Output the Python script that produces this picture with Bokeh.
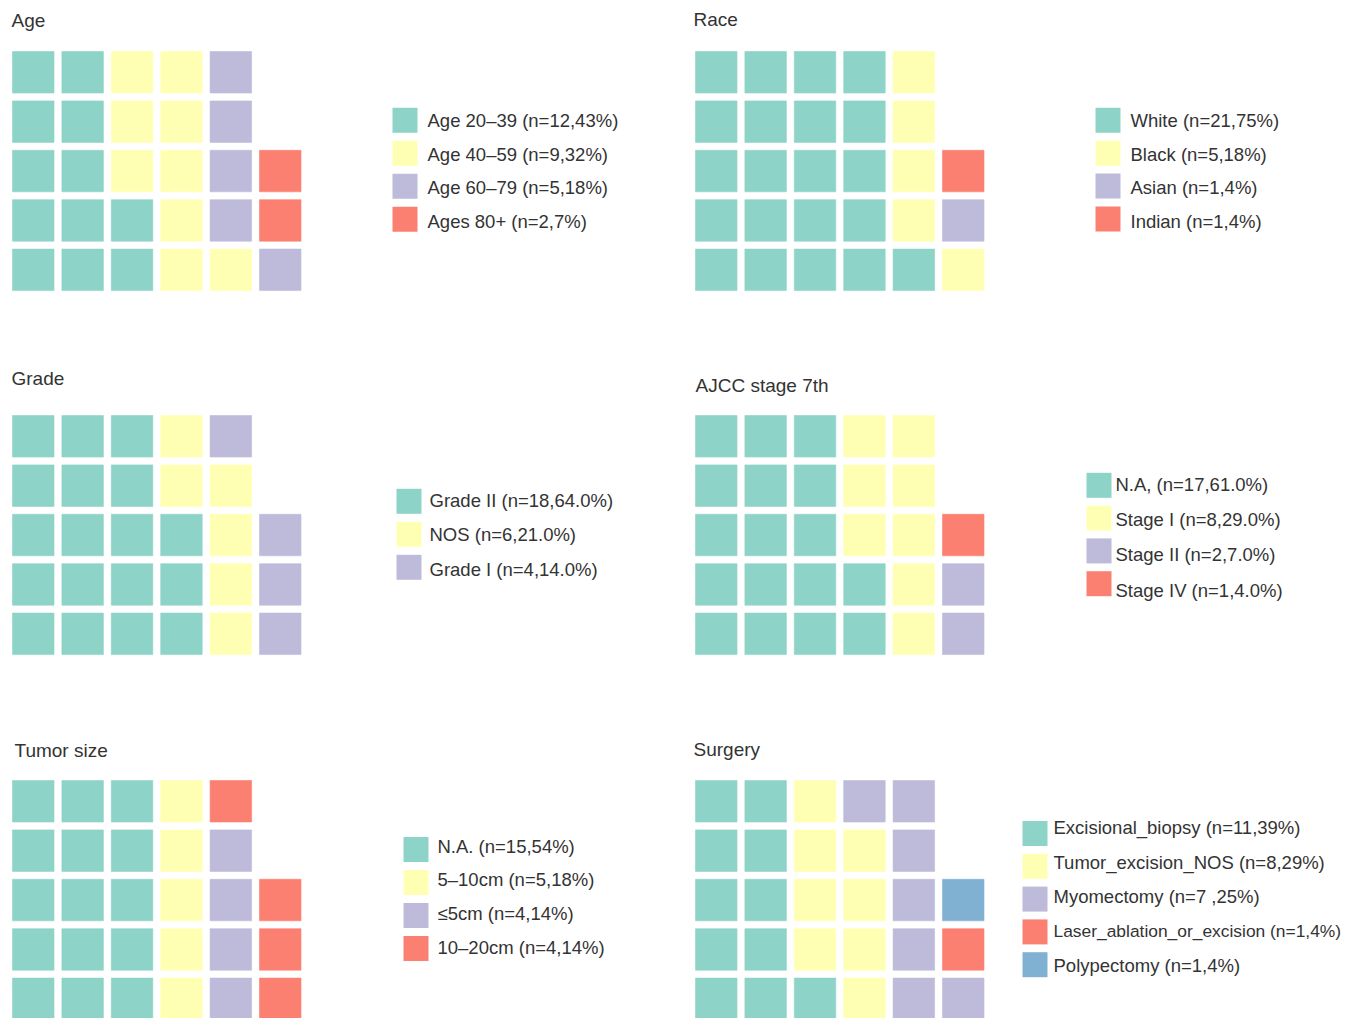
from bokeh.plotting import figure
from bokeh.models import Range1d, ColumnDataSource
from bokeh.core.properties import value
from bokeh.embed import file_html
from bokeh.resources import INLINE

# ---------------- data ----------------
age_title = "Age"
age_labels = ["Age 20\u201339 (n=12,43%)", "Age 40\u201359 (n=9,32%)",
              "Age 60\u201379 (n=5,18%)", "Ages 80+ (n=2,7%)"]
age_counts = [12, 9, 5, 2]

race_title = "Race"
race_labels = ["White (n=21,75%)", "Black (n=5,18%)", "Asian (n=1,4%)", "Indian (n=1,4%)"]
race_counts = [21, 5, 1, 1]

grade_title = "Grade"
grade_labels = ["Grade II (n=18,64.0%)", "NOS (n=6,21.0%)", "Grade I (n=4,14.0%)"]
grade_counts = [18, 6, 4]

ajcc_title = "AJCC stage 7th"
ajcc_labels = ["N.A, (n=17,61.0%)", "Stage I (n=8,29.0%)",
               "Stage II (n=2,7.0%)", "Stage IV (n=1,4.0%)"]
ajcc_counts = [17, 8, 2, 1]

tumor_title = "Tumor size"
tumor_labels = ["N.A. (n=15,54%)", "5\u201310cm (n=5,18%)",
                "\u22645cm (n=4,14%)", "10\u201320cm (n=4,14%)"]
tumor_counts = [15, 5, 4, 4]

surgery_title = "Surgery"
surgery_labels = ["Excisional_biopsy (n=11,39%)", "Tumor_excision_NOS (n=8,29%)",
                  "Myomectomy (n=7 ,25%)", "Laser_ablation_or_excision (n=1,4%)",
                  "Polypectomy (n=1,4%)"]
surgery_counts = [11, 8, 7, 1, 1]

# ---------------- style / layout ----------------
COLORS = ["#8DD3C7", "#FFFFB3", "#BEBADA", "#FB8072", "#80B1D3"]
TEXT_COLOR = "#333333"
FONT = "Liberation Sans"
ROWS = 5
CELL = 41.5
PITCH = 49.4
LEG_SQ = 25
LEG_FS = 18.5
RIGHT_LIMIT = 1341  # keep legend text inside the page
AVG_CHAR_EM = 0.474  # rough width estimate used only for fitting long labels

panels = [
    dict(title=age_title, labels=age_labels, counts=age_counts,
         tx=11, ty=20, gx=12, gy=51, lx=392, ltx=427, sy=119.8, tyy=120.0, ss=33.0, ts=33.7),
    dict(title=race_title, labels=race_labels, counts=race_counts,
         tx=693, ty=19, gx=695, gy=51, lx=1095, ltx=1130, sy=119.8, tyy=120.0, ss=32.9, ts=33.7),
    dict(title=grade_title, labels=grade_labels, counts=grade_counts,
         tx=11, ty=378, gx=12, gy=415, lx=396, ltx=429, sy=500.8, tyy=500.0, ss=33.0, ts=34.3),
    dict(title=ajcc_title, labels=ajcc_labels, counts=ajcc_counts,
         tx=695, ty=385, gx=695, gy=415, lx=1086, ltx=1115, sy=484.8, tyy=484.0, ss=32.8, ts=35.2),
    dict(title=tumor_title, labels=tumor_labels, counts=tumor_counts,
         tx=14, ty=750, gx=12, gy=780, lx=403, ltx=437, sy=849.0, tyy=845.5, ss=33.0, ts=33.7),
    dict(title=surgery_title, labels=surgery_labels, counts=surgery_counts,
         tx=693, ty=749, gx=695, gy=780, lx=1022, ltx=1053, sy=833.0, tyy=827.0, ss=32.8, ts=34.5),
]

W, H = 1354, 1018
p = figure(width=W, height=H, output_backend="svg", toolbar_location=None,
           x_range=Range1d(0, W), y_range=Range1d(H, 0), min_border=0,
           background_fill_color="white", border_fill_color="white")
p.axis.visible = False
p.grid.visible = False
p.outline_line_color = None

cx, cy, cc = [], [], []
lx, ly, lc = [], [], []
txx, txy, txt, tfs = [], [], [], []
ttx, tty, ttt = [], [], []

for pn in panels:
    # waffle cells: fill column by column, bottom to top
    seq = []
    for k, n in enumerate(pn["counts"]):
        seq += [k] * n
    for i, k in enumerate(seq):
        col = i // ROWS
        row_from_bottom = i % ROWS
        cx.append(pn["gx"] + col * PITCH + CELL / 2)
        cy.append(pn["gy"] + (ROWS - 1 - row_from_bottom) * PITCH + CELL / 2)
        cc.append(COLORS[k])
    # legend
    for k, lab in enumerate(pn["labels"]):
        lx.append(pn["lx"] + LEG_SQ / 2)
        ly.append(pn["sy"] + k * pn["ss"])
        lc.append(COLORS[k])
        txx.append(pn["ltx"])
        txy.append(pn["tyy"] + k * pn["ts"])
        txt.append(lab)
        est = len(lab) * AVG_CHAR_EM * LEG_FS
        room = RIGHT_LIMIT - pn["ltx"]
        fs = LEG_FS if est <= room else LEG_FS * room / est
        tfs.append("%.1fpx" % fs)
    ttx.append(pn["tx"])
    tty.append(pn["ty"])
    ttt.append(pn["title"])

p.rect(x="x", y="y", width=CELL, height=CELL, fill_color="c", line_color="c",
       line_alpha=0.6, source=ColumnDataSource(dict(x=cx, y=cy, c=cc)))
p.rect(x="x", y="y", width=LEG_SQ, height=LEG_SQ, fill_color="c", line_color=None,
       source=ColumnDataSource(dict(x=lx, y=ly, c=lc)))
p.text(x="x", y="y", text="t", source=ColumnDataSource(dict(x=txx, y=txy, t=txt, fs=tfs)),
       text_font=value(FONT), text_font_size="fs", text_color=TEXT_COLOR,
       text_baseline="middle", text_align="left")
p.text(x="x", y="y", text="t", source=ColumnDataSource(dict(x=ttx, y=tty, t=ttt)),
       text_font=value(FONT), text_font_size="19px", text_color=TEXT_COLOR,
       text_baseline="middle", text_align="left")

open("out.html", "w").write(file_html(p, INLINE))
